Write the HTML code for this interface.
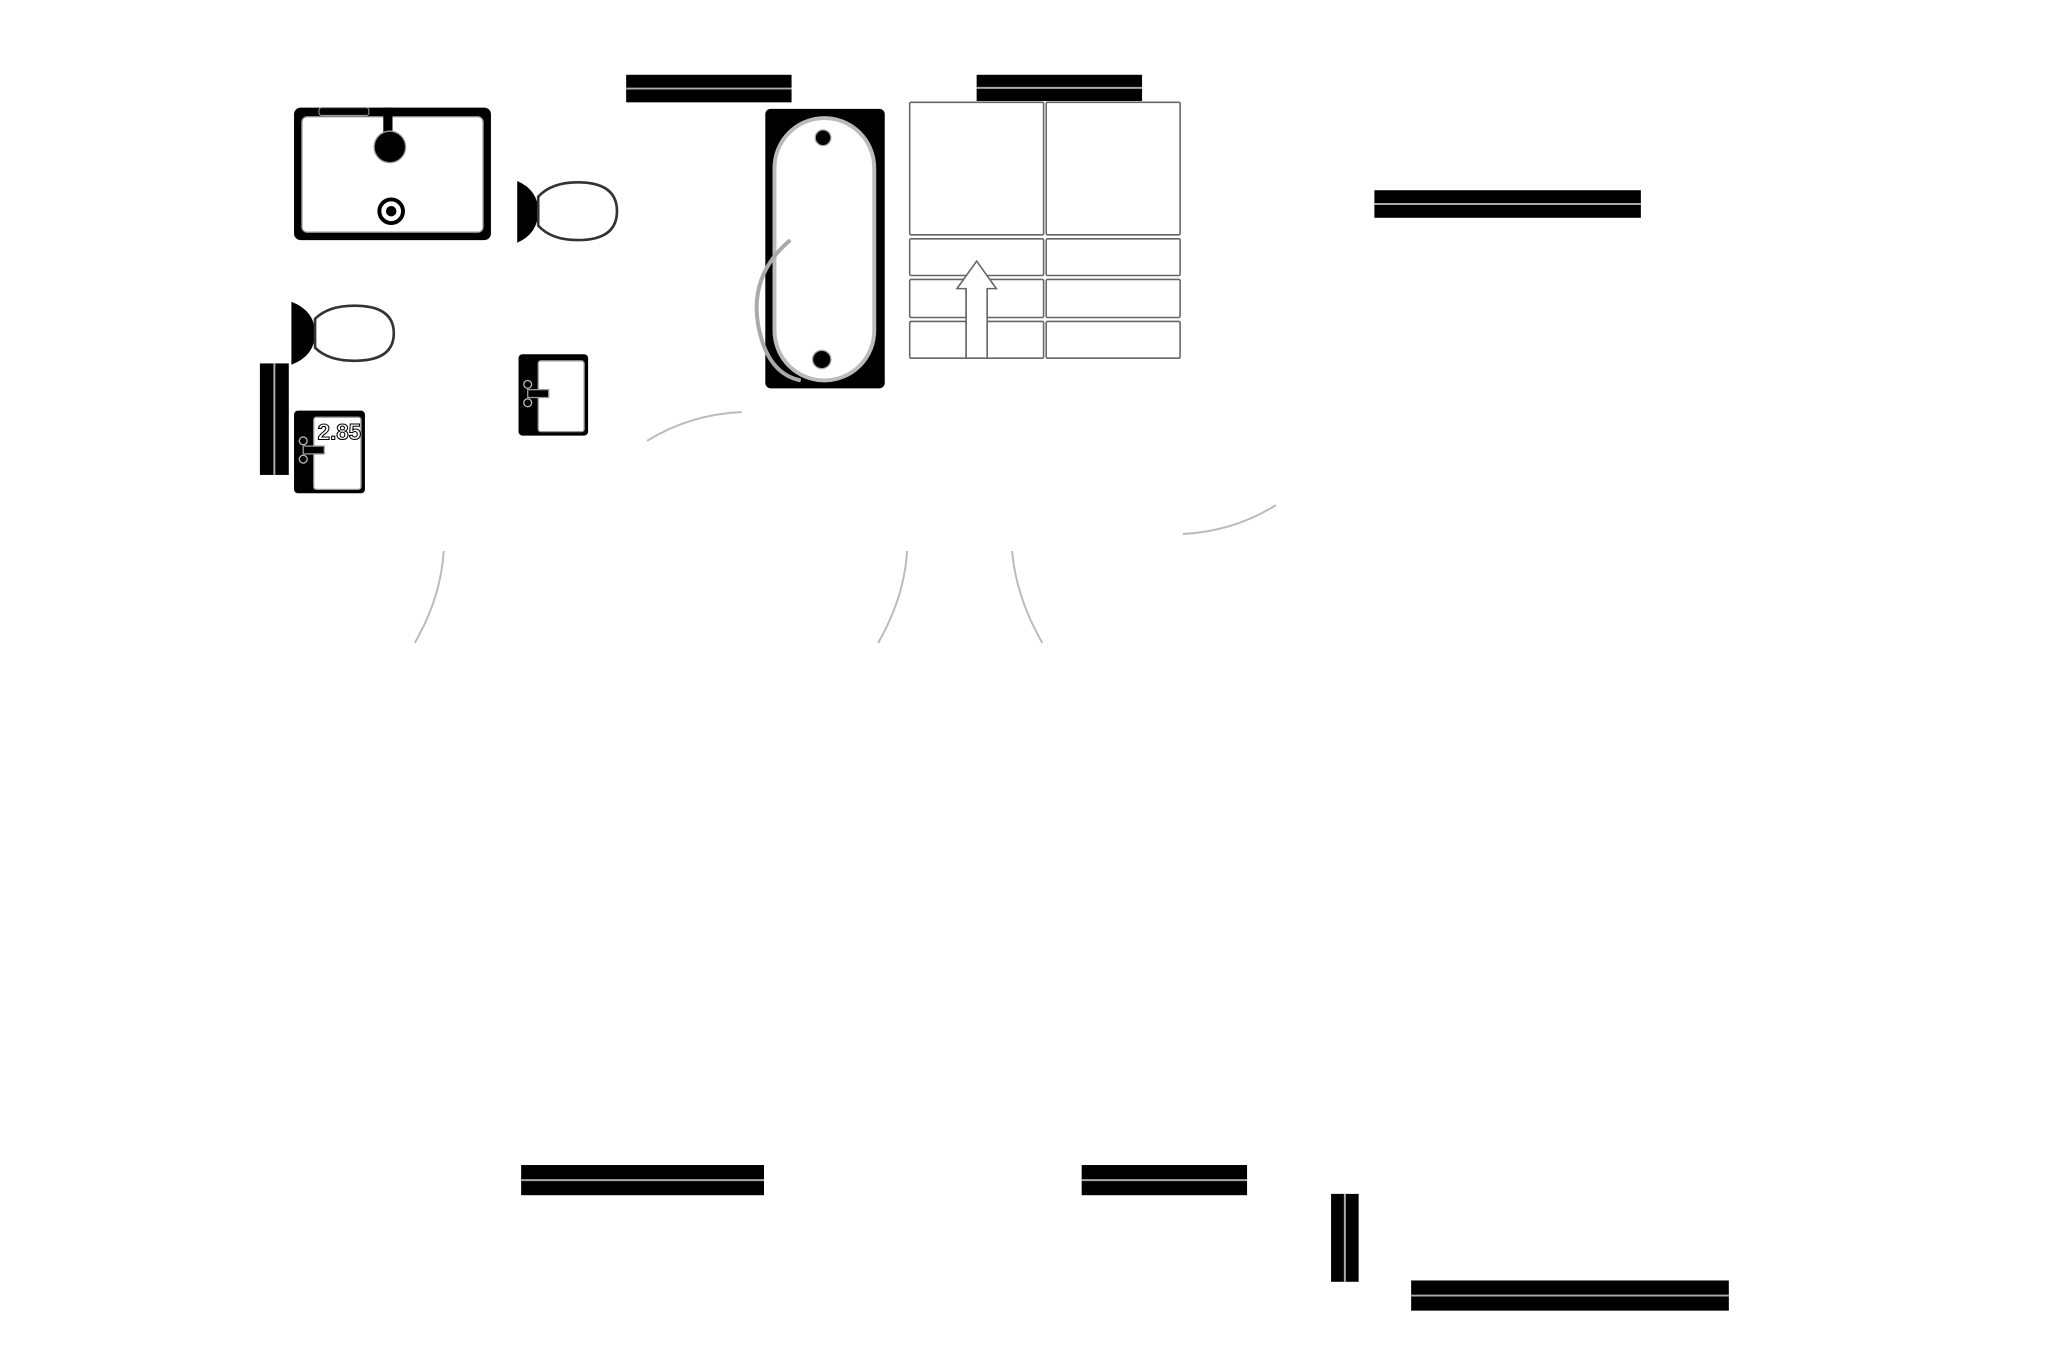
<!DOCTYPE html>
<html><head><meta charset="utf-8"><style>
html,body{margin:0;padding:0;background:#fff;}
svg{display:block;}
</style></head><body>
<svg width="2057" height="1371" viewBox="0 0 1567 1045" preserveAspectRatio="none" xmlns="http://www.w3.org/2000/svg">
<g id="bars">
<rect x="477" y="57" width="126" height="21" fill="#000"/><line x1="477" y1="67.5" x2="603" y2="67.5" stroke="#aaa" stroke-width="1.5"/>
<rect x="744" y="57" width="126" height="20" fill="#000"/><line x1="744" y1="67" x2="870" y2="67" stroke="#aaa" stroke-width="1.5"/>
<rect x="1047" y="145" width="203" height="21" fill="#000"/><line x1="1047" y1="155.5" x2="1250" y2="155.5" stroke="#aaa" stroke-width="1.5"/>
<rect x="397" y="888" width="185" height="23" fill="#000"/><line x1="397" y1="899.5" x2="582" y2="899.5" stroke="#aaa" stroke-width="1.5"/>
<rect x="824" y="888" width="126" height="23" fill="#000"/><line x1="824" y1="899.5" x2="950" y2="899.5" stroke="#aaa" stroke-width="1.5"/>
<rect x="1014" y="910" width="21" height="67" fill="#000"/><line x1="1024.5" y1="910" x2="1024.5" y2="977" stroke="#aaa" stroke-width="1.5"/>
<rect x="1075" y="976" width="242" height="23" fill="#000"/><line x1="1075" y1="987.5" x2="1317" y2="987.5" stroke="#aaa" stroke-width="1.5"/>
<rect x="198" y="277" width="22" height="85" fill="#000"/><line x1="209" y1="277" x2="209" y2="362" stroke="#aaa" stroke-width="1.5"/>
</g>
<!-- big sink -->
<rect x="224" y="82" width="150" height="101" rx="5" fill="#000"/>
<rect x="230" y="89" width="138" height="88" rx="4" fill="#fff" stroke="#999" stroke-width="1"/>
<rect x="243" y="82" width="38" height="6" rx="2" fill="#000" stroke="#999" stroke-width="0.8"/>
<rect x="292" y="82" width="7" height="22" fill="#000"/>
<circle cx="297" cy="112" r="12" fill="#000" stroke="#999"/>
<circle cx="298" cy="161" r="9" fill="#fff" stroke="#000" stroke-width="3"/>
<circle cx="298" cy="161" r="4" fill="#000"/>
<!-- toilet 1 -->
<path d="M394 138 Q410 145 410 161 Q410 178 394 185 Z" fill="#000"/>
<path d="M410 150 Q420 139 440 139 Q470 139 470 161 Q470 183 440 183 Q420 183 410 172 Z" fill="#fff" stroke="#333" stroke-width="2"/>
<!-- toilet 2 -->
<path d="M222 230 Q240 237 240 254 Q240 271 222 278 Z" fill="#000"/>
<path d="M240 243 Q250 233 270 233 Q300 233 300 254 Q300 275 270 275 Q250 275 240 265 Z" fill="#fff" stroke="#333" stroke-width="2"/>
<!-- small sink 1 -->
<rect x="395" y="270" width="53" height="62" rx="3" fill="#000"/>
<rect x="410" y="275" width="35" height="54" rx="2" fill="#fff" stroke="#999"/>
<rect x="402" y="297" width="16" height="6" fill="#000" stroke="#999"/>
<circle cx="402" cy="293" r="3" fill="none" stroke="#bbb"/><circle cx="402" cy="307" r="3" fill="none" stroke="#bbb"/>
<!-- small sink 2 -->
<rect x="224" y="313" width="54" height="63" rx="3" fill="#000"/>
<rect x="239" y="318" width="36" height="55" rx="2" fill="#fff" stroke="#999"/>
<rect x="231" y="340" width="16" height="6" fill="#000" stroke="#999"/>
<circle cx="231" cy="336" r="3" fill="none" stroke="#bbb"/><circle cx="231" cy="350" r="3" fill="none" stroke="#bbb"/>
<text x="242" y="335" font-family="Liberation Sans, sans-serif" font-size="17" font-weight="bold" fill="#fff" stroke="#000" stroke-width="0.8">2.85</text>
<!-- bathtub -->
<rect x="583" y="83" width="91" height="213" rx="4" fill="#000"/>
<rect x="590" y="90" width="76" height="200" rx="38" fill="#fff" stroke="#bbb" stroke-width="3"/>
<circle cx="627" cy="105" r="6" fill="#000" stroke="#aaa"/>
<circle cx="626" cy="274" r="7" fill="#000" stroke="#aaa"/>
<path d="M602 183 Q570 210 578 250 Q585 285 610 290" fill="none" stroke="#aaa" stroke-width="3"/>
<!-- grid -->
<g fill="#fff" stroke="#666" stroke-width="1.2">
<rect x="693" y="78" width="102" height="101" rx="1"/>
<rect x="797" y="78" width="102" height="101" rx="1"/>
<rect x="693" y="182" width="102" height="28" rx="1"/>
<rect x="797" y="182" width="102" height="28" rx="1"/>
<rect x="693" y="213" width="43" height="29" rx="1"/>
<rect x="752" y="213" width="43" height="29" rx="1"/>
<rect x="797" y="213" width="102" height="29" rx="1"/>
<rect x="693" y="245" width="43" height="28" rx="1"/>
<rect x="752" y="245" width="43" height="28" rx="1"/>
<rect x="797" y="245" width="102" height="28" rx="1"/>
</g>
<path d="M736 273 L736 220 L729 220 L744 199 L759 220 L752 220 L752 273 Z" fill="#fff" stroke="#666" stroke-width="1.2"/>
<rect x="737" y="242" width="14" height="30" fill="#fff"/>
<!-- arcs -->
<g fill="none" stroke="#bbb" stroke-width="1.5">
<path d="M493 336 Q525 316 565 314"/>
<path d="M316 490 Q336 455 338 420"/>
<path d="M669 490 Q689 455 691 420"/>
<path d="M771 420 Q774 455 794 490"/>
<path d="M901 407 Q940 405 972 385"/>
</g>
</svg>
</body></html>
